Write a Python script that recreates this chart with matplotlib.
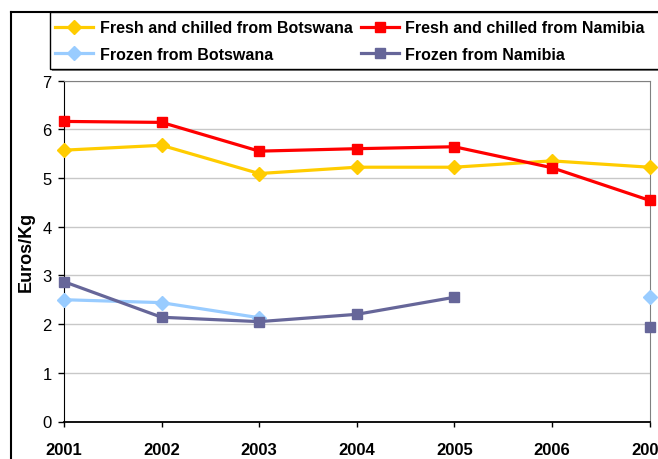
import numpy as np
import matplotlib.pyplot as plt
from matplotlib.lines import Line2D
from matplotlib.patches import Rectangle

plt.rcParams['font.family'] = ['Liberation Sans', 'DejaVu Sans']

# ==========================================
# DATA
# ==========================================

years = [2001, 2002, 2003, 2004, 2005, 2006, 2007]

fresh_botswana = [5.57, 5.67, 5.09, 5.22, 5.22, 5.35, 5.22]
fresh_namibia = [6.16, 6.14, 5.55, 5.60, 5.64, 5.21, 4.54]
frozen_botswana = [2.50, 2.44, 2.13, np.nan, np.nan, np.nan, 2.56]
frozen_namibia = [2.87, 2.14, 2.05, 2.20, 2.55, np.nan, 1.93]

labels = [
    "Fresh and chilled from Botswana",
    "Fresh and chilled from Namibia",
    "Frozen from Botswana",
    "Frozen from Namibia",
]

y_ticks = [0, 1, 2, 3, 4, 5, 6, 7]

# ==========================================
# FIGURE
# ==========================================

W, H = 658, 460
fig = plt.figure(figsize=(W / 100, H / 100), dpi=100)

ax = fig.add_axes([
    64 / W,
    1 - 422.5 / H,
    (649.5 - 64) / W,
    (422.5 - 81.5) / H
])

style = dict(linewidth=2.3, clip_on=False, zorder=3)

l1, = ax.plot(years, fresh_botswana, color="#FFCC00", marker="D",
              markersize=7, label=labels[0], **style)
l2, = ax.plot(years, fresh_namibia, color="#FF0000", marker="s",
              markersize=7.8, label=labels[1], **style)
l3, = ax.plot(years, frozen_botswana, color="#99CCFF", marker="D",
              markersize=7.3, label=labels[2], **style)
l4, = ax.plot(years, frozen_namibia, color="#666699", marker="s",
              markersize=7.8, label=labels[3], **style)

ax.set_xlim(2001, 2007)
ax.set_ylim(0, 7)
ax.set_xticks(years)
ax.set_xticklabels([str(y) for y in years], fontsize=12, fontweight="bold")
ax.set_yticks(y_ticks)
ax.set_yticklabels([str(v) for v in y_ticks], fontsize=12)

ax.tick_params(axis="x", direction="out", length=3.5, width=1,
               color="black", pad=11)
ax.tick_params(axis="y", direction="out", length=4, width=1,
               color="black", pad=5)

ax.grid(axis="y", color="#C8C8C8", linewidth=1)
ax.set_axisbelow(True)

ax.spines["left"].set_color("black")
ax.spines["bottom"].set_color("black")
ax.spines["bottom"].set_linewidth(1.3)
ax.spines["right"].set_color("#808080")
ax.spines["top"].set_color("#808080")

ax.set_ylabel("Euros/Kg", fontsize=13, fontweight="bold", labelpad=5)

# outer chart frame (cropped on right and bottom)
fx = 11 / W
fy = 1 - 13 / H
fig.add_artist(Line2D([fx, fx], [0, fy], color="black", linewidth=1.5))
fig.add_artist(Line2D([fx, 1], [fy, fy], color="black", linewidth=1.5))

# legend box (runs past the right edge) with shadow
lx0, ly_top, ly_bot = 49.5, 13, 70
fig.add_artist(Rectangle(
    ((lx0 + 2) / W, 1 - (ly_bot + 2) / H),
    (700 - lx0) / W, (ly_bot - ly_top) / H,
    facecolor="#808080", edgecolor="none", zorder=1
))
fig.add_artist(Rectangle(
    (lx0 / W, 1 - ly_bot / H),
    (700 - lx0) / W, (ly_bot - ly_top) / H,
    facecolor="white", edgecolor="black", linewidth=1.0, zorder=2
))

leg = fig.legend(
    handles=[l1, l3, l2, l4],
    loc="upper left",
    bbox_to_anchor=(lx0 / W, 1 - (ly_top + 2.5) / H),
    ncol=2,
    prop={"weight": "bold", "size": 11.5},
    frameon=False,
    handlelength=2.4,
    handletextpad=0.4,
    columnspacing=0.5,
    labelspacing=0.73,
    borderpad=0.35,
    borderaxespad=0,
)
leg.set_zorder(3)

fig.savefig("out.png", dpi=100)
